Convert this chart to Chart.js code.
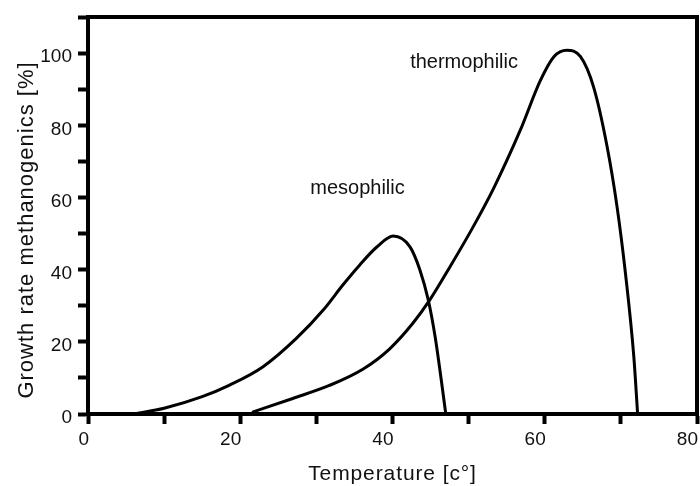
<!DOCTYPE html>
<html>
<head>
<meta charset="utf-8">
<script src="https://cdn.jsdelivr.net/npm/chart.js@4/dist/chart.umd.min.js"></script>
<style>
html,body{margin:0;padding:0;background:#fff;}
canvas{display:block;}
</style>
</head>
<body>
<canvas id="c" width="700" height="486"></canvas>
<script>
// ---- data ----
const mesoTemp   = [6, 10, 15, 18.6, 23, 27.4, 30.9, 33.5, 35.7, 37.9, 40.1, 42.3, 43.6, 44.7, 45.6, 46.7, 47];
const mesoRate   = [0, 1.6, 4.8, 8, 13.1, 21, 28.8, 35.8, 41.3, 46.2, 49.3, 46.3, 39.9, 31.6, 21.4, 4.8, 0];
const thermoTemp = [21.7, 26.9, 31.7, 36.1, 39.6, 42.7, 44.9, 47.5, 50.5, 53.3, 56.8, 59.4, 61.2, 62.9, 64.7, 66.4, 68.2, 69.5, 70.6, 71.7, 72.2];
const thermoRate = [0.6, 4.3, 7.9, 12.4, 18.0, 25.2, 31.6, 40.6, 51.5, 62.6, 78.7, 92.3, 99, 100.8, 99, 90.7, 74, 57.4, 39, 15.9, 0];

const curveNames = ['mesophilic', 'thermophilic'];
const labelTemp  = [35.4, 49.4];
const labelRate  = [62.5, 97.5];

const xTitle = 'Temperature [c°]';
const yTitle = 'Growth rate methanogenics [%]';
const xTickLabels = [0, 20, 40, 60, 80];
const yTickLabels = [0, 20, 40, 60, 80, 100];

const FONT = "'Liberation Sans', Arial, Helvetica, sans-serif";

function toPoints(xs, ys) { return xs.map((x, i) => ({x: x, y: ys[i]})); }

const framePlugin = {
  id: 'frame',
  afterDraw(chart) {
    const {ctx, chartArea: a, scales} = chart;
    ctx.save();
    // top and right border of the box
    ctx.strokeStyle = '#000';
    ctx.lineWidth = 4;
    ctx.lineCap = 'square';
    ctx.beginPath();
    ctx.moveTo(a.left, a.top);
    ctx.lineTo(a.right, a.top);
    ctx.lineTo(a.right, a.bottom);
    ctx.stroke();

    // curve annotations
    ctx.fillStyle = '#111';
    ctx.font = '20px ' + FONT;
    ctx.textAlign = 'center';
    ctx.textBaseline = 'middle';
    curveNames.forEach((n, i) => {
      ctx.fillText(n, scales.x.getPixelForValue(labelTemp[i]), scales.y.getPixelForValue(labelRate[i]));
    });

    // axis titles
    ctx.font = '21px ' + FONT;
    if ('letterSpacing' in ctx) ctx.letterSpacing = '0.9px';
    ctx.textBaseline = 'alphabetic';
    ctx.fillText(xTitle, (a.left + a.right) / 2, 480);

    ctx.font = '22px ' + FONT;
    if ('letterSpacing' in ctx) ctx.letterSpacing = '1px';
    ctx.translate(33, 230);
    ctx.rotate(-Math.PI / 2);
    ctx.fillText(yTitle, 0, 0);
    ctx.restore();
  }
};

function fixX(scale) {
  scale.height = 72;
  scale.paddingLeft = scale.paddingRight = scale.paddingTop = scale.paddingBottom = 0;
}
function fixY(scale) {
  scale.width = 88;
  scale.paddingLeft = scale.paddingRight = scale.paddingTop = scale.paddingBottom = 0;
}

function curve(name, xs, ys) {
  return {
    label: name,
    data: toPoints(xs, ys),
    showLine: true,
    borderColor: '#000',
    borderWidth: 3,
    pointRadius: 0,
    cubicInterpolationMode: 'monotone',
    borderJoinStyle: 'round',
    borderCapStyle: 'round',
    fill: false
  };
}

new Chart(document.getElementById('c'), {
  type: 'scatter',
  data: {
    datasets: [
      curve(curveNames[0], mesoTemp, mesoRate),
      curve(curveNames[1], thermoTemp, thermoRate)
    ]
  },
  options: {
    responsive: false,
    animation: false,
    devicePixelRatio: 1,
    layout: { padding: { left: 0, right: 3, top: 17, bottom: 0 } },
    plugins: { legend: { display: false }, tooltip: { enabled: false } },
    scales: {
      x: {
        type: 'linear',
        min: 0, max: 80,
        afterFit: fixX,
        border: { display: true, color: '#000', width: 4 },
        grid: { display: true, drawOnChartArea: false, drawTicks: true, tickLength: 10, tickWidth: 4, tickColor: '#000' },
        ticks: {
          stepSize: 10,
          align: 'end',
          labelOffset: 1,
          padding: 4,
          color: '#111',
          font: { family: FONT, size: 19 },
          maxRotation: 0,
          autoSkip: false,
          callback: (v) => xTickLabels.includes(v) ? String(v) : ''
        }
      },
      y: {
        type: 'linear',
        min: 0, max: 110,
        afterFit: fixY,
        border: { display: true, color: '#000', width: 4 },
        grid: { display: true, drawOnChartArea: false, drawTicks: true, tickLength: 10, tickWidth: 4, tickColor: '#000' },
        ticks: {
          stepSize: 10,
          labelOffset: 4,
          padding: 6,
          color: '#111',
          font: { family: FONT, size: 19 },
          autoSkip: false,
          callback: (v) => yTickLabels.includes(v) ? String(v) : ''
        }
      }
    }
  },
  plugins: [framePlugin]
});
</script>
</body>
</html>
